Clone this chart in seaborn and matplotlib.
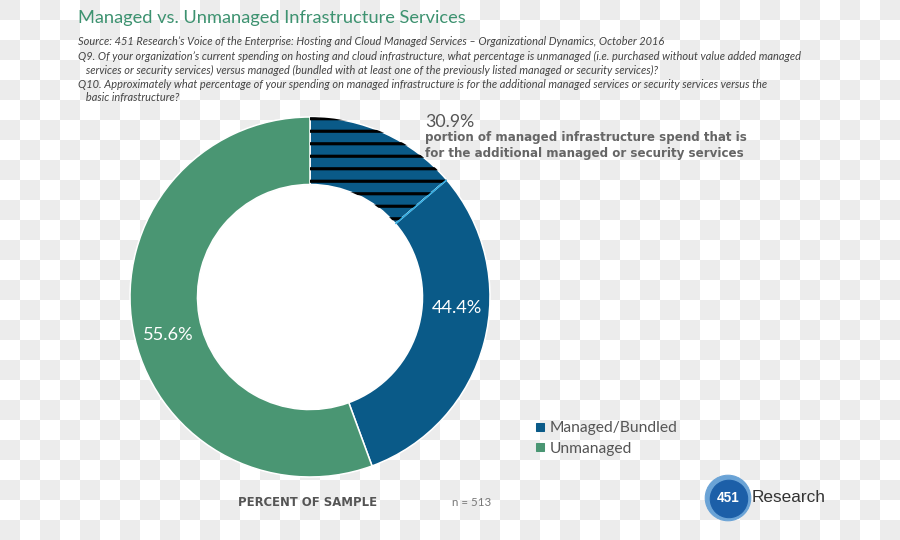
import numpy as np
import matplotlib
matplotlib.use("Agg")
import matplotlib.pyplot as plt
import seaborn as sns
from matplotlib.colors import ListedColormap
from matplotlib.patches import Circle
from matplotlib.lines import Line2D

# ---------------- data ----------------
categories = ["Managed/Bundled", "Unmanaged"]
shares = [44.4, 55.6]            # percent of sample
addon_pct = 30.9                 # % of managed spend for additional services
share_labels = ["44.4%", "55.6%"]

title = "Managed vs. Unmanaged Infrastructure Services"
notes = [
    "Source: 451 Research\u2019s Voice of the Enterprise: Hosting and Cloud Managed Services \u2013 Organizational Dynamics, October 2016",
    "Q9. Of your organization\u2019s current spending on hosting and cloud infrastructure, what percentage is unmanaged (i.e. purchased without value added managed",
    "   services or security services) versus managed (bundled with at least one of the previously listed managed or security services)?",
    "Q10. Approximately what percentage of your spending on managed infrastructure is for the additional managed services or security services versus the",
    "   basic infrastructure?",
]
addon_text = ["portion of managed infrastructure spend that is",
              "for the additional managed or security services"]

# ---------------- style ----------------
sns.set_theme(style="white")
plt.rcParams['font.family'] = ['Lato', 'DejaVu Sans']
plt.rcParams['hatch.linewidth'] = 3.0
plt.rcParams['hatch.color'] = 'black'

BLUE = "#0a5a88"
GREEN = "#4a9673"
TITLE_GREEN = "#3d9270"
CYAN = "#2aaae2"

W, H = 900, 540
fig = plt.figure(figsize=(12, 7.2), dpi=75)

def px(x, y):
    return x / W, 1 - y / H

# checkerboard background
bg = fig.add_axes([0, 0, 1, 1], zorder=0)
n = 20
yy, xx = np.mgrid[0:H // n, 0:W // n]
board = ((xx + yy) % 2 == 0).astype(int)
bg.imshow(board, cmap=ListedColormap(['#ffffff', '#ececec']),
          extent=[0, W, H, 0], aspect='auto', interpolation='nearest')
bg.set_axis_off()

# donut
cx, cy, R = 310, 297, 180
ax = fig.add_axes([(cx - R) / W, (H - cy - R) / H, 2 * R / W, 2 * R / H], zorder=1)
ax.set_facecolor('none')
values = [shares[0] * addon_pct / 100, shares[0] * (1 - addon_pct / 100), shares[1]]
ring_w = 0.375
ax.pie(values, colors=[BLUE, BLUE, GREEN], startangle=90, counterclock=False,
       radius=1, wedgeprops=dict(width=ring_w, edgecolor='white', linewidth=1.5))
hw, _ = ax.pie(values, colors=['none'] * 3, startangle=90, counterclock=False,
               radius=1, wedgeprops=dict(width=ring_w, edgecolor='black', linewidth=0))
hw[0].set_hatch('-')
hw[1].set_visible(False)
hw[2].set_visible(False)
ang = np.deg2rad(90 - 360 * values[0] / sum(values))
r_in = 1 - ring_w
ax.plot([r_in * np.cos(ang), np.cos(ang)], [r_in * np.sin(ang), np.sin(ang)],
        color=CYAN, lw=1.5, solid_capstyle='butt')
ax.add_patch(Circle((0, 0), r_in - 0.004, color='white', zorder=0.5))
ax.set_xlim(-1, 1)
ax.set_ylim(-1, 1)
ax.set_axis_off()

ax.text(0.817, -0.06, share_labels[0], color='white', fontsize=17.5,
        ha='center', va='center')
ax.text(-0.79, -0.21, share_labels[1], color='white', fontsize=17.5,
        ha='center', va='center')

# title and notes
fig.text(*px(78, 18), title, color=TITLE_GREEN, fontsize=17.5, va='center', ha='left')
ys = [42, 56, 70, 84, 97]
for y, line in zip(ys, notes):
    fig.text(*px(78, y), line, color='#444444', fontsize=10.6, style='italic',
             va='center', ha='left')

# add-on annotation
fig.text(*px(425, 122), f"{addon_pct}%", color='#555555', fontsize=17, va='center')
fig.text(*px(425, 138), addon_text[0], color='#666666', fontsize=11.4,
         fontweight='bold', family=['DejaVu Sans'], va='center')
fig.text(*px(425, 154), addon_text[1], color='#666666', fontsize=11.4,
         fontweight='bold', family=['DejaVu Sans'], va='center')

# legend
handles = [Line2D([], [], marker='s', linestyle='none', markersize=7,
                  markerfacecolor=c, markeredgecolor=c) for c in [BLUE, GREEN]]
fig.legend(handles, categories, loc='upper left', bbox_to_anchor=px(536, 421),
           frameon=False, handlelength=0.5, handletextpad=0.35, labelspacing=0.42,
           fontsize=15, labelcolor='#555555', borderaxespad=0, borderpad=0)

# footer
fig.text(*px(238, 503), "PERCENT OF SAMPLE", color='#555555', fontsize=11.2,
         fontweight='bold', family=['DejaVu Sans'], va='center')
fig.text(*px(452, 503), "n = 513", color='#777777', fontsize=11, va='center')

# logo
lg = fig.add_axes([(728 - 24) / W, (H - 498 - 24) / H, 48 / W, 48 / H], zorder=2)
lg.set_xlim(-1, 1)
lg.set_ylim(-1, 1)
lg.add_patch(Circle((0, 0), 0.95, color='#6aa3d6'))
lg.add_patch(Circle((0.04, -0.04), 0.78, color='#1c5fa8'))
lg.text(0.02, 0, "451", color='white', fontsize=13, fontweight='bold',
        ha='center', va='center', family=['Liberation Sans', 'DejaVu Sans'])
lg.set_axis_off()
fig.text(*px(752, 498), "Research", color='#333333', fontsize=16.5, va='center',
         family=['Liberation Sans', 'DejaVu Sans'])

fig.savefig("out.png", dpi=75)
